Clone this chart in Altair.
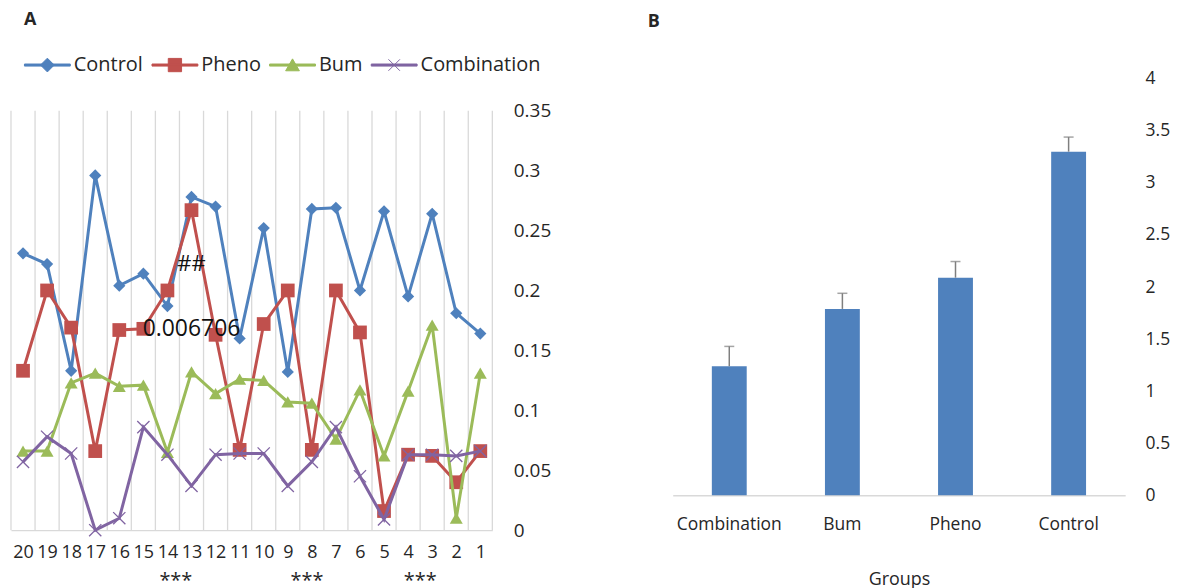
import altair as alt
import pandas as pd

# ---------------- data ----------------
categories = ["20", "19", "18", "17", "16", "15", "14", "13", "12", "11",
              "10", "9", "8", "7", "6", "5", "4", "3", "2", "1"]
series_names = ["Control", "Pheno", "Bum", "Combination"]
series_colors = ["#4F81BD", "#C0504D", "#9BBB59", "#8064A2"]

control = [0.231, 0.222, 0.133, 0.296, 0.204, 0.214, 0.187, 0.278, 0.270, 0.160,
           0.252, 0.132, 0.268, 0.269, 0.200, 0.266, 0.195, 0.264, 0.181, 0.164]
pheno = [0.133, 0.200, 0.169, 0.066, 0.167, 0.168, 0.200, 0.267, 0.163, 0.067,
         0.172, 0.200, 0.067, 0.200, 0.165, 0.016, 0.063, 0.062, 0.040, 0.066]
bum = [0.066, 0.066, 0.123, 0.131, 0.120, 0.121, 0.065, 0.132, 0.114, 0.126,
       0.125, 0.107, 0.106, 0.076, 0.117, 0.062, 0.116, 0.171, 0.010, 0.131]
combination = [0.057, 0.078, 0.064, 0.000, 0.010, 0.086, 0.063, 0.037, 0.063, 0.064,
               0.064, 0.037, 0.057, 0.086, 0.045, 0.009, 0.063, 0.063, 0.062, 0.066]

y_ticks_a = [0, 0.05, 0.1, 0.15, 0.2, 0.25, 0.3, 0.35]

annot_text = ["##", "0.006706"]
annot_idx = [7, 7]
annot_val = [0.222, 0.168]
annot_size = [22, 23]

stars_idx = [6.35, 11.8, 16.5]
stars_val = [-0.047, -0.047, -0.047]

groups = ["Combination", "Bum", "Pheno", "Control"]
means = [1.24, 1.79, 2.09, 3.30]
errs = [0.19, 0.15, 0.155, 0.14]
y_ticks_b = [0, 0.5, 1, 1.5, 2, 2.5, 3, 3.5, 4]

FONT = "Open Sans"
TXT = "#262626"
GRID = "#d9d9d9"

# ---------------- panel A ----------------
idx = list(range(len(categories)))
rows = []
for name, vals in zip(series_names, [control, pheno, bum, combination]):
    for i, v in zip(idx, vals):
        rows.append({"series": name, "idx": i, "value": v})
df = pd.DataFrame(rows)

# plot area of A reaches a little above 0.35 so that both panels share a top edge
xscale = alt.Scale(domain=[-0.5, len(categories) - 0.5], nice=False, zero=False)
yscale = alt.Scale(domain=[0, 0.3766], nice=False, zero=True)

label_expr = "[" + ",".join("'%s'" % c for c in categories) + "][datum.value]"
grid_vals = [i - 0.5 for i in range(len(categories) + 1)]

x_label_axis = alt.Axis(orient="bottom", values=idx, labelExpr=label_expr,
                        grid=False, ticks=False, tickSize=0, domain=True,
                        domainColor=GRID, domainWidth=1.3, title=None,
                        labelFontSize=18, labelColor=TXT, labelPadding=13,
                        labelOverlap=False, labelBound=False, labelFlush=False,
                        labelAngle=0)
y_axis_a = alt.Axis(orient="right", values=y_ticks_a, format="~g", grid=False,
                    ticks=False, tickSize=0, domain=False, title=None,
                    labelFontSize=19, labelColor=TXT, labelPadding=21)

Y = alt.Y("value:Q", scale=yscale, axis=y_axis_a)

# vertical category gridlines spanning 0 .. 0.35
grid_df = pd.DataFrame({"gx": grid_vals, "y0": [y_ticks_a[0]] * len(grid_vals),
                        "y1": [y_ticks_a[-1]] * len(grid_vals)})
grid_layer = alt.Chart(grid_df).mark_rule(color=GRID, strokeWidth=1.3).encode(
    x=alt.X("gx:Q", scale=xscale, axis=x_label_axis),
    y=alt.Y("y0:Q", scale=yscale, axis=y_axis_a),
    y2="y1:Q")

base = alt.Chart(df)

marker_shape = {"Control": "diamond", "Pheno": "square", "Bum": "triangle-up",
                "Combination": "M-1,-1L1,1M-1,1L1,-1"}
marker_size = {"Control": 150, "Pheno": 190, "Bum": 170, "Combination": 150}

layers = [grid_layer]
for name, col in zip(series_names, series_colors):
    sub = base.transform_filter(alt.datum.series == name)
    line = sub.mark_line(color=col, strokeWidth=3).encode(
        x=alt.X("idx:Q", scale=xscale, axis=x_label_axis), y=Y)
    if name == "Combination":
        pts = sub.mark_point(shape=marker_shape[name], filled=False, color=col,
                             strokeWidth=1.3, size=marker_size[name], opacity=1)
    else:
        pts = sub.mark_point(shape=marker_shape[name], filled=True, color=col,
                             size=marker_size[name], opacity=1)
    pts = pts.encode(x=alt.X("idx:Q", scale=xscale, axis=x_label_axis), y=Y)
    layers += [line, pts]

# legend (line + marker symbols)
seg = "M-1,-0.045L1,-0.045L1,0.045L-1,0.045Z"
leg_paths = [seg + "M-0.3,0L0,-0.3L0.3,0L0,0.3Z",
             seg + "M-0.29,-0.29L0.29,-0.29L0.29,0.29L-0.29,0.29Z",
             seg + "M-0.3,0.25L0,-0.27L0.3,0.25Z",
             seg + "M-0.25,-0.25L0.25,0.25M-0.25,0.25L0.25,-0.25"]
legend_def = alt.Legend(orient="none", legendX=13, legendY=-37.5, direction="horizontal",
                        title=None, symbolSize=2116, symbolStrokeWidth=1,
                        symbolOpacity=1, labelFontSize=20, labelColor=TXT,
                        labelOffset=3, columnPadding=6, padding=0, labelFont=FONT)
leg_layer = base.transform_filter("false").mark_point(filled=True).encode(
    x=alt.X("idx:Q", scale=xscale, axis=x_label_axis), y=Y,
    fill=alt.Fill("series:N", scale=alt.Scale(domain=series_names, range=series_colors),
                  legend=legend_def),
    stroke=alt.Stroke("series:N", scale=alt.Scale(domain=series_names, range=series_colors),
                      legend=legend_def),
    shape=alt.Shape("series:N", scale=alt.Scale(domain=series_names, range=leg_paths),
                    legend=legend_def),
)
layers.append(leg_layer)

ann_df = pd.DataFrame({"idx": annot_idx, "value": annot_val, "text": annot_text,
                       "fs": annot_size})
for t, fs in zip(annot_text, annot_size):
    layers.append(
        alt.Chart(ann_df).transform_filter(alt.datum.text == t).mark_text(
            fontSize=fs, color="#111111", font=FONT).encode(
            x=alt.X("idx:Q", scale=xscale, axis=x_label_axis), y=Y, text="text:N"))

star_df = pd.DataFrame({"idx": stars_idx, "value": stars_val, "text": ["***"] * 3})
layers.append(
    alt.Chart(star_df).mark_text(fontSize=20, color=TXT, baseline="alphabetic",
                                 font=FONT).encode(
        x=alt.X("idx:Q", scale=xscale, axis=x_label_axis), y=Y, text="text:N"))

panel_a = alt.layer(*layers).properties(
    width=483, height=453,
    title=alt.Title("A", anchor="start", frame="group", dx=13, offset=50,
                    fontSize=18, fontWeight="bold", color=TXT, font=FONT))

# ---------------- panel B ----------------
bdf = pd.DataFrame({"group": groups, "mean": means, "err": errs})
bdf["hi"] = bdf["mean"] + bdf["err"]

xb = alt.X("group:N", sort=groups, scale=alt.Scale(paddingInner=0, paddingOuter=0),
           axis=alt.Axis(title="Groups", labelAngle=0, ticks=False, tickSize=0,
                         domainColor=GRID, domainWidth=1.5, labelFontSize=17.5,
                         labelColor=TXT, labelPadding=20, titleFontSize=18,
                         titleFontWeight="normal", titleColor=TXT, titlePadding=38))
yscale_b = alt.Scale(domain=[0, 4], nice=False)
yb_axis = alt.Axis(orient="right", values=y_ticks_b, format="~g", grid=False,
                   ticks=False, tickSize=0, domain=False, title=None,
                   labelFontSize=17.5, labelColor=TXT, labelPadding=20)

bbase = alt.Chart(bdf)
bars = bbase.mark_bar(size=35, color="#4F81BD").encode(
    x=xb, y=alt.Y("mean:Q", scale=yscale_b, axis=yb_axis))
err_rule = bbase.mark_rule(color="#7f7f7f", strokeWidth=1.5).encode(
    x=xb, y=alt.Y("mean:Q", scale=yscale_b, axis=yb_axis), y2="hi:Q")
err_cap = bbase.mark_tick(color="#7f7f7f", thickness=1.5, size=10).encode(
    x=xb, y=alt.Y("hi:Q", scale=yscale_b, axis=yb_axis))

panel_b = alt.layer(bars, err_rule, err_cap).properties(
    width=454, height=418,
    title=alt.Title("B", anchor="start", frame="group", dx=-25, offset=38.5,
                    fontSize=18, fontWeight="bold", color=TXT, font=FONT))

chart = alt.hconcat(panel_a, panel_b, spacing=97).properties(
    padding={"left": 2, "top": 2, "right": 5, "bottom": 0},
    background="white",
).configure(font=FONT).configure_view(stroke=None)

chart.save("out.html", embed_options={"renderer": "svg", "actions": False})
